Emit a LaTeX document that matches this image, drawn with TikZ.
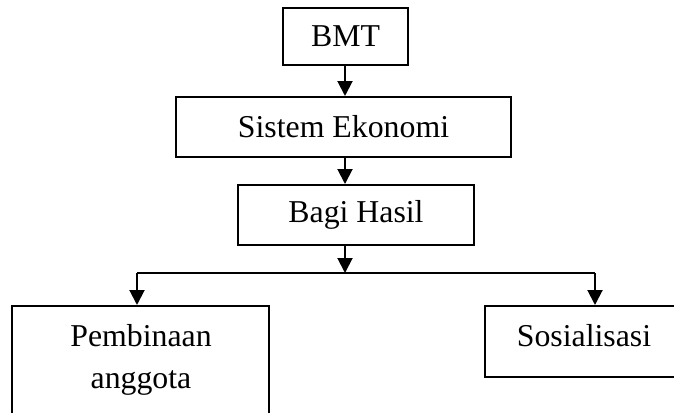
\documentclass[tikz,border=0pt]{standalone}
\usepackage{fontspec}
\setmainfont{Liberation Serif}
\usetikzlibrary{arrows.meta}
\begin{document}
\begin{tikzpicture}[x=1pt,y=-1pt,
  box/.style={draw=black,line width=2pt,rectangle,inner sep=0pt,align=center,
    font=\fontsize{31.8pt}{42pt}\selectfont},
  lbl/.style={inner sep=0pt,anchor=base,align=center,font=\fontsize{31.8pt}{42pt}\selectfont},
  conn/.style={line width=2pt,-{Triangle[length=15pt,width=15pt]}},
  wire/.style={line width=2pt}]
\useasboundingbox (0,0) rectangle (674,412);
\begin{scope}
\clip (0,0) rectangle (674,412);
\node[box,minimum width=125pt,minimum height=57pt] (bmt) at (345.5,36.5) {BMT};
\node[box,minimum width=335pt,minimum height=60pt] (sis) at (343.5,127) {Sistem Ekonomi};
\node[box,minimum width=236pt,minimum height=60pt] (bagi) at (356,215) {Bagi Hasil};
\node[box,minimum width=257pt,minimum height=134pt] (pemb) at (140.5,373) {};
\node[box,minimum width=205pt,minimum height=71pt] (sos) at (587.5,341.5) {};
\node[lbl] (pembt) at (141,346) {Pembinaan};
\node[lbl] (pembt2) at (141,388) {anggota};
\node[lbl] (sost) at (584,346) {Sosialisasi};
\coordinate (j) at (345,273);
\coordinate (jl) at (137,273);
\coordinate (jr) at (595,273);
\draw[conn] (bmt.south -| j) -- (sis.north -| j);
\draw[conn] (sis.south -| j) -- (bagi.north -| j);
\draw[conn] (bagi.south -| j) -- (j);
\draw[wire] (jl) -- (jr);
\draw[conn] (jl) -- (pemb.north -| jl);
\draw[conn] (jr) -- (sos.north -| jr);
\end{scope}
\end{tikzpicture}
\end{document}
